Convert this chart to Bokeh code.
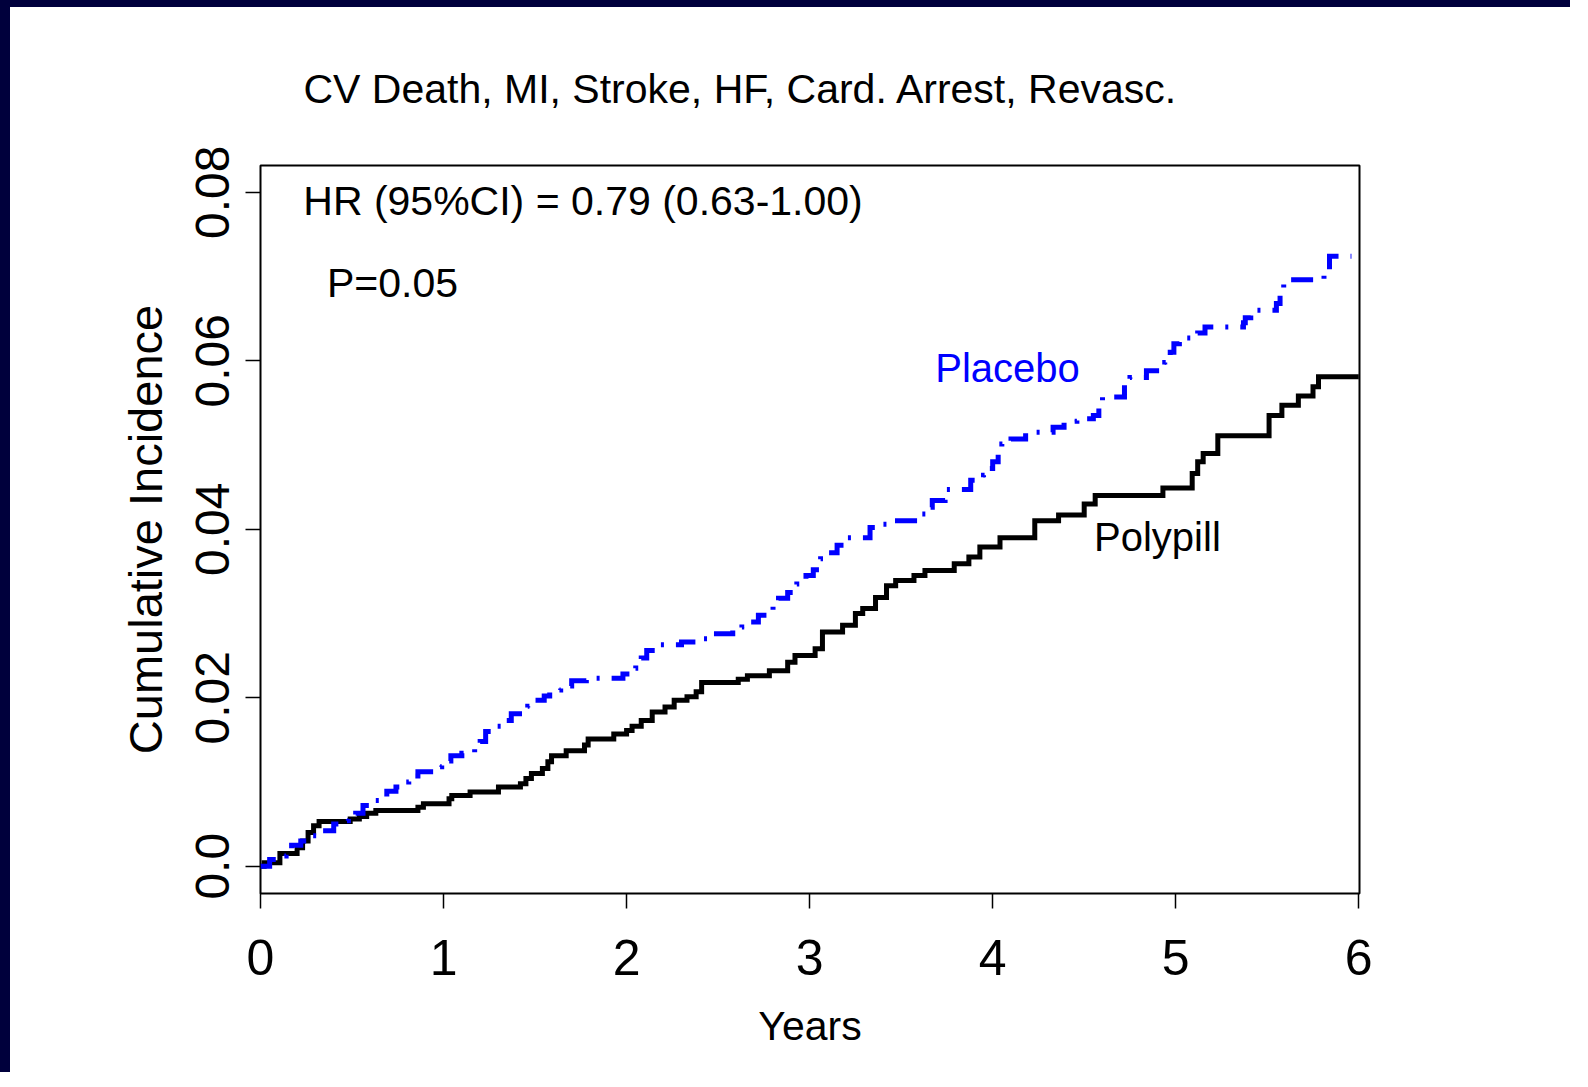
from bokeh.plotting import figure
from bokeh.models import Range1d, FixedTicker, Label
from bokeh.embed import file_html
from bokeh.resources import INLINE

# ---------------- data ----------------
placebo_t = [0.00, 0.05, 0.10, 0.14, 0.17, 0.22, 0.28, 0.33, 0.40, 0.45,
             0.48, 0.52, 0.56, 0.62, 0.65, 0.69, 0.74, 0.78, 0.81, 0.86,
             0.95, 0.99, 1.04, 1.10, 1.17, 1.20, 1.23, 1.27, 1.32, 1.37,
             1.43, 1.46, 1.48, 1.55, 1.58, 1.64, 1.70, 1.78, 1.98, 2.02,
             2.05, 2.08, 2.11, 2.14, 2.30, 2.40, 2.45, 2.58, 2.63, 2.67,
             2.72, 2.78, 2.80, 2.83, 2.88, 2.93, 2.98, 3.02, 3.06, 3.10,
             3.15, 3.19, 3.33, 3.40, 3.48, 3.61, 3.64, 3.67, 3.74, 3.88,
             3.95, 3.98, 4.00, 4.03, 4.05, 4.10, 4.18, 4.33, 4.39, 4.46,
             4.55, 4.58, 4.60, 4.72, 4.75, 4.84, 4.94, 4.97, 4.99, 5.02,
             5.12, 5.16, 5.37, 5.38, 5.41, 5.55, 5.57, 5.59, 5.81, 5.84,
             5.96]
placebo_v = [0.0000, 0.0008, 0.0012, 0.0018, 0.0025, 0.0030, 0.0036, 0.0042, 0.0050, 0.0054,
             0.0058, 0.0063, 0.0072, 0.0078, 0.0082, 0.0089, 0.0094, 0.0100, 0.0107, 0.0112,
             0.0118, 0.0125, 0.0131, 0.0134, 0.0140, 0.0148, 0.0160, 0.0166, 0.0173, 0.0181,
             0.0184, 0.0190, 0.0197, 0.0202, 0.0209, 0.0214, 0.0220, 0.0223, 0.0228, 0.0235,
             0.0240, 0.0247, 0.0256, 0.0263, 0.0266, 0.0270, 0.0276, 0.0280, 0.0284, 0.0290,
             0.0298, 0.0302, 0.0310, 0.0318, 0.0325, 0.0335, 0.0345, 0.0352, 0.0365, 0.0372,
             0.0381, 0.0390, 0.0402, 0.0406, 0.0410, 0.0418, 0.0426, 0.0434, 0.0447, 0.0458,
             0.0464, 0.0472, 0.0480, 0.0490, 0.0501, 0.0507, 0.0515, 0.0521, 0.0528, 0.0531,
             0.0535, 0.0547, 0.0557, 0.0573, 0.0580, 0.0588, 0.0598, 0.0610, 0.0620, 0.0627,
             0.0633, 0.0640, 0.0645, 0.0651, 0.0660, 0.0668, 0.0682, 0.0696, 0.0707, 0.0724,
             0.0724]

polypill_t = [0.00, 0.02, 0.106, 0.20, 0.23, 0.26, 0.29, 0.32, 0.49, 0.54,
              0.58, 0.63, 0.86, 0.89, 1.03, 1.045, 1.145, 1.30, 1.42, 1.45,
              1.48, 1.54, 1.57, 1.59, 1.67, 1.77, 1.79, 1.93, 2.00, 2.03,
              2.08, 2.14, 2.21, 2.26, 2.33, 2.38, 2.41, 2.61, 2.66, 2.78,
              2.88, 2.92, 3.03, 3.07, 3.18, 3.25, 3.29, 3.36, 3.42, 3.47,
              3.57, 3.63, 3.79, 3.87, 3.93, 4.04, 4.23, 4.36, 4.50, 4.56,
              4.93, 5.09, 5.12, 5.15, 5.23, 5.51, 5.58, 5.67, 5.75, 5.78,
              6.00]
polypill_v = [0.0000, 0.0004, 0.0015, 0.0022, 0.0030, 0.0040, 0.0048, 0.0053, 0.0056, 0.0059,
              0.0063, 0.0066, 0.0070, 0.0074, 0.0080, 0.0084, 0.0088, 0.0094, 0.0098, 0.0104,
              0.0110, 0.0116, 0.0124, 0.0131, 0.0137, 0.0144, 0.0151, 0.0157, 0.0161, 0.0166,
              0.0173, 0.0183, 0.0189, 0.0197, 0.0201, 0.0207, 0.0218, 0.0222, 0.0226, 0.0232,
              0.0242, 0.0250, 0.0258, 0.0278, 0.0286, 0.0300, 0.0306, 0.0319, 0.0333, 0.0339,
              0.0345, 0.0351, 0.0359, 0.0367, 0.0379, 0.0390, 0.0410, 0.0417, 0.0430, 0.0440,
              0.0449, 0.0466, 0.0480, 0.0490, 0.0511, 0.0535, 0.0547, 0.0558, 0.0569, 0.0581,
              0.0581]

x_ticks = [0, 1, 2, 3, 4, 5, 6]
y_ticks = [0.0, 0.02, 0.04, 0.06, 0.08]
y_tick_labels = ["0.0", "0.02", "0.04", "0.06", "0.08"]

title_text = "CV Death, MI, Stroke, HF, Card. Arrest, Revasc."
hr_text = "HR (95%CI) = 0.79 (0.63-1.00)"
p_text = "P=0.05"
x_title = "Years"
y_title = "Cumulative Incidence"

FONT = "'Liberation Sans', Arial, sans-serif"

# ---------------- figure ----------------
p = figure(width=1570, height=1072,
           x_range=Range1d(0, 6.004), y_range=Range1d(-0.00324, 0.08317),
           output_backend="svg", toolbar_location=None, tools="",
           min_border_left=250, min_border_right=221,
           min_border_top=158, min_border_bottom=186)
p.styles = {"border-top": "7px solid #00003c", "border-left": "10px solid #00003c"}
p.background_fill_color = "white"
p.border_fill_color = "white"
p.outline_line_color = "black"
p.outline_line_width = 2
p.grid.visible = False

# title
p.title.text = title_text
p.title.text_font = FONT
p.title.text_font_size = "41px"
p.title.text_font_style = "normal"
p.title.text_color = "black"
p.title.align = "left"
p.title.offset = 43
p.title.standoff = 108

for ax in (p.xaxis, p.yaxis):
    ax.axis_line_color = None
    ax.major_tick_out = 15
    ax.major_tick_in = 0
    ax.minor_tick_out = 0
    ax.minor_tick_in = 0
    ax.major_tick_line_color = "black"
    ax.major_tick_line_width = 1.5
    ax.major_label_text_color = "black"
    ax.major_label_text_font = FONT
    ax.axis_label_text_font = FONT
    ax.axis_label_text_font_style = "normal"
    ax.axis_label_text_color = "black"

p.xaxis.ticker = FixedTicker(ticks=x_ticks)
p.xaxis.major_label_text_font_size = "50px"
p.xaxis.major_label_standoff = 31
p.xaxis.axis_label = x_title
p.xaxis.axis_label_text_font_size = "41px"
p.xaxis.axis_label_standoff = 25

p.yaxis.ticker = FixedTicker(ticks=y_ticks)
p.yaxis.major_label_overrides = {t: s for t, s in zip(y_ticks, y_tick_labels)}
p.yaxis.major_label_orientation = "vertical"
p.yaxis.major_label_text_font_size = "48px"
p.yaxis.major_label_standoff = 16
p.yaxis.axis_label = y_title
p.yaxis.axis_label_text_font_size = "47px"
p.yaxis.axis_label_standoff = 22

# curves
p.step(polypill_t, polypill_v, mode="after", line_color="black", line_width=5,
       line_join="miter")
p.step(placebo_t, placebo_v, mode="after", line_color="#0000FF", line_width=5,
       line_dash="22 12 3 12", line_join="miter")

# in-plot texts (anchored at their vertical centre)
p.add_layout(Label(x=1.762, y=0.07896, text=hr_text, text_font=FONT,
                   text_font_size="41px", text_align="center",
                   text_baseline="middle", text_color="black"))
p.add_layout(Label(x=0.721, y=0.06921, text=p_text, text_font=FONT,
                   text_font_size="41px", text_align="center",
                   text_baseline="middle", text_color="black"))
p.add_layout(Label(x=4.081, y=0.05914, text="Placebo", text_font=FONT,
                   text_font_size="40px", text_align="center",
                   text_baseline="middle", text_color="#0000FF"))
p.add_layout(Label(x=4.900, y=0.03911, text="Polypill", text_font=FONT,
                   text_font_size="40px", text_align="center",
                   text_baseline="middle", text_color="black"))

open("out.html", "w").write(file_html(p, INLINE))
